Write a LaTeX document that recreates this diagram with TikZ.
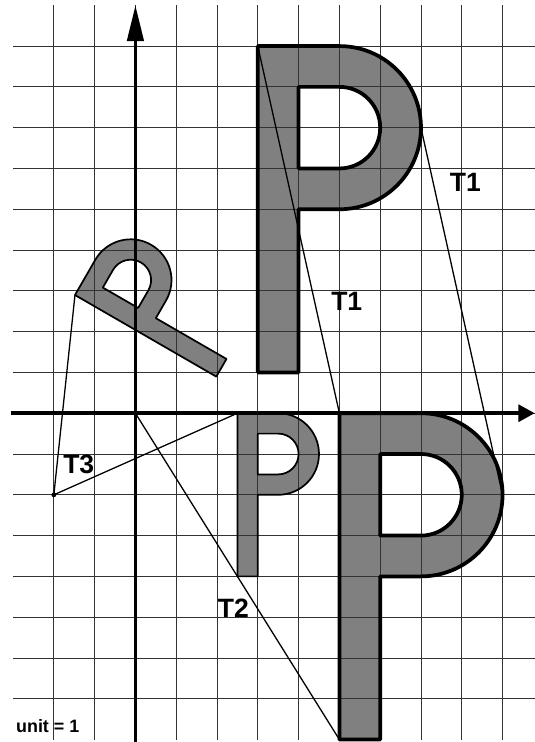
\documentclass[tikz,border=0pt]{standalone}
\usepackage{fontspec}
\setmainfont{Liberation Sans}
\usetikzlibrary{arrows.meta}

\newcommand{\letterP}{(2.5,-4) -- (2.5,0) -- (3.5,0) arc[start angle=90,end angle=-90,radius=1] -- (3,-2) -- (3,-4) -- cycle
	(3,-0.5) -- (3.5,-0.5) arc[start angle=90,end angle=-90,radius=0.5] -- (3,-1.5) -- cycle}

\begin{document}
\begin{tikzpicture}[line join=round,
	pfill/.style={fill=gray,even odd rule},
	gridline/.style={black!80,line width=0.6pt},
	bigp/.style={line width=2.6pt},
	smallp/.style={line width=1.2pt},
	axis/.style={line width=2.6pt},
	tline/.style={line width=0.9pt},
	lbl/.style={font=\bfseries\fontsize{18.5}{20}\selectfont},
	unitlbl/.style={font=\bfseries\fontsize{12.5}{14}\selectfont}]
	\clip (-3.32,-8.06) rectangle (9.79,10.13);
	
	\begin{scope}[rotate around={60:(-2,-2)}]
		\fill[pfill] \letterP;
	\end{scope}
	\fill[pfill] \letterP;
	\begin{scope}[scale=2]
		\fill[pfill] \letterP;
	\end{scope}
	\begin{scope}[shift={(-2,9)},scale=2]
		\fill[pfill] \letterP;
	\end{scope}
	
	\foreach \x in {-2,...,9}
		\draw[gridline] (\x,-8) -- (\x,10);
	\foreach \y in {-7,...,9}
		\draw[gridline] (-3,\y) -- (10,\y);
	
	\begin{scope}[rotate around={60:(-2,-2)}]
		\draw[smallp] \letterP;
		\coordinate (ra) at (2.5,0);
	\end{scope}
	\draw[smallp] \letterP;
	\begin{scope}[scale=2]
		\draw[bigp] \letterP;
	\end{scope}
	\begin{scope}[shift={(-2,9)},scale=2]
		\draw[bigp] \letterP;
	\end{scope}
	
	\draw[axis,-{Triangle[length=0.4cm,width=0.41cm]}] (-3.06,0) -- (9.79,0);
	\draw[axis,-{Triangle[length=0.88cm,width=0.4cm]}] (0,-8.1) -- (0,10);
	
	\coordinate (O) at (0,0);
	\coordinate (ctr) at (-2,-2);
	\coordinate (sa) at (2.5,0);
	\coordinate (sb) at (5,-8);
	\coordinate (ua) at (3,9);
	\coordinate (la) at (5,0);
	\coordinate (ub) at (7,7);
	\coordinate (lb) at (9,-2);
	
	\draw[tline] (ua) -- (la);
	\draw[tline] (ub) -- (lb);
	\draw[tline] (O) -- (sb);
	\draw[tline] (ctr) -- (sa);
	\draw[tline] (ctr) -- (ra);
	\fill (ctr) circle (0.06);
	
	\node[lbl] (t1a) at (8.09,5.65) {T1};
	\node[lbl] (t1b) at (5.18,2.73) {T1};
	\node[lbl] (t2) at (2.40,-4.78) {T2};
	\node[lbl] (t3) at (-1.39,-1.25) {T3};
	\node[unitlbl] (unit) at (-2.15,-7.67) {unit = 1};
\end{tikzpicture}
\end{document}
